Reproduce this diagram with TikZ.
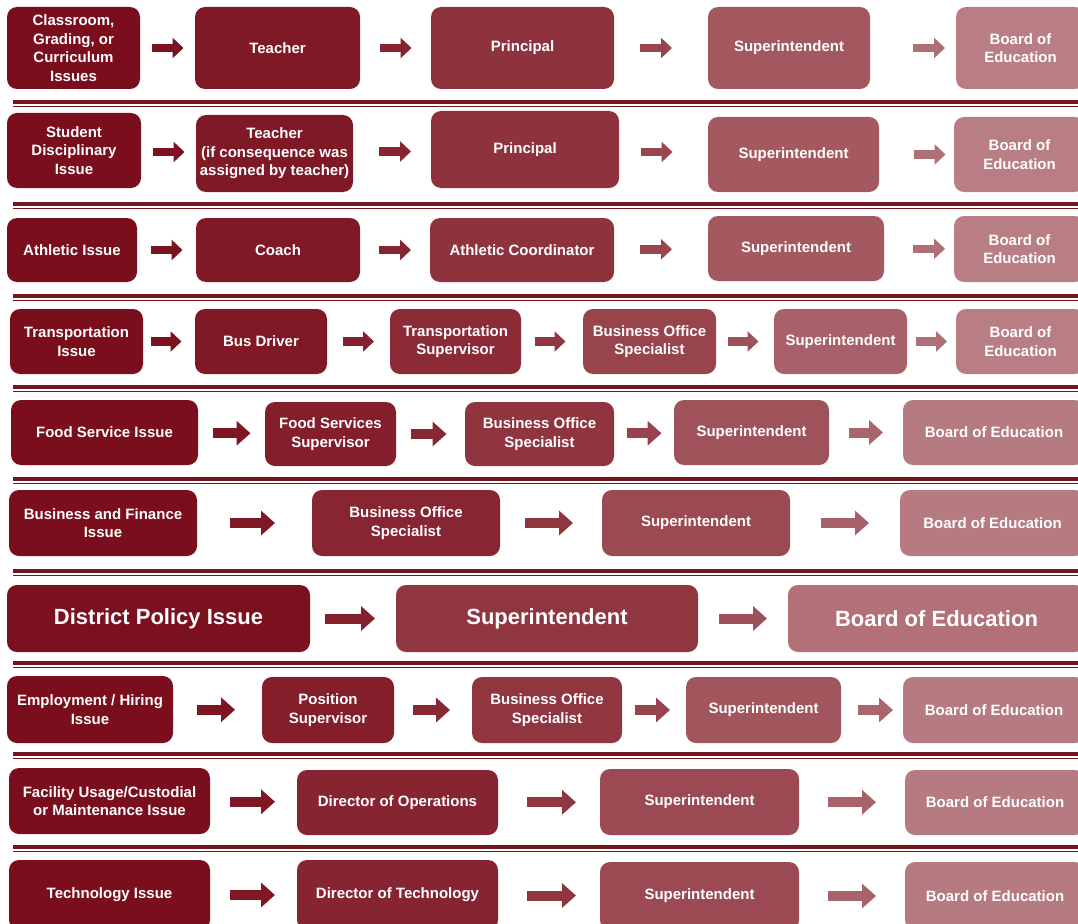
\documentclass[tikz,border=0pt]{standalone}
\usepackage{fontspec}
\setmainfont{Liberation Sans}
\usetikzlibrary{calc,arrows.meta}
\definecolor{darkc}{RGB}{122,14,28}
\definecolor{lightc}{RGB}{184,126,131}
\definecolor{sepc}{RGB}{118,20,32}
\newdimen\ardim
\newcommand\bx[7][]{%
  \pgfmathtruncatemacro\bxt{100*pow(max(0.001,min(1,((#3+#5)/2-70)/940)),1.5)}%
  \colorlet{bxc}{lightc!\bxt!darkc}%
  \pgfmathsetmacro\bxw{#5-#3}\pgfmathsetmacro\bxh{#6-#4}%
  \node[box,fill=bxc,minimum width=\bxw pt,minimum height=\bxh pt,#1] (#2) at ({(#3+#5)/2},{-(#4+#6)/2}) {#7};}
\newcommand\arr[5][0]{%
  \coordinate (#2-#3) at ($(#2.east)!.5!(#3.west)+(#1,0)$);
  \pgfextractx{\ardim}{\pgfpointanchor{#2-#3}{center}}%
  \pgfmathtruncatemacro\art{100*pow(max(0.001,min(1,(\ardim-70)/940)),1.5)}%
  \colorlet{arc}{lightc!\art!darkc}%
  \draw[#5,draw=arc] ($(#2-#3)+(-#4/2,0)$) -- ($(#2-#3)+(#4/2,0)$);}
\tikzset{
  box/.style={rectangle,rounded corners=10pt,text=white,align=center,inner sep=1pt,
    font=\bfseries\fontsize{15}{18.5}\selectfont},
  big/.style={font=\bfseries\fontsize{22}{26}\selectfont},
  arS/.style={line width=8.5pt,-{Triangle[length=11pt,width=20pt]}},
  arL/.style={line width=10pt,-{Triangle[length=14pt,width=24pt]}},
  sepA/.style={line width=4pt,sepc},
  sepB/.style={line width=1.5pt,sepc},
}
\begin{document}
\begin{tikzpicture}[x=1pt,y=1pt]
\useasboundingbox (0,0) rectangle (1078,-923);
\clip (0,0) rectangle (1078,-923);
\fill[white] (0,0) rectangle (1078,-923);
\foreach \y in {102,204,296,387,479,571,663,754,847}{
  \draw[sepA] (13,-\y) -- (1090,-\y);
  \draw[sepB] (13,-\y-4.5) -- (1090,-\y-4.5);
}
% Row 1
\bx{r1a}{7}{7}{140}{89}{Classroom,\\Grading, or\\Curriculum\\Issues}
\bx{r1b}{195}{7}{360}{89}{Teacher}
\bx{r1c}{431}{7}{614}{89}{Principal}
\bx{r1d}{708}{7}{870}{89}{Superintendent}
\bx{r1e}{956}{7}{1085}{89}{Board of\\Education}
\arr{r1a}{r1b}{32}{arS}
\arr{r1b}{r1c}{32}{arS}
\arr[-5]{r1c}{r1d}{32}{arS}
\arr[16]{r1d}{r1e}{32}{arS}
% Row 2
\bx{r2a}{7}{113}{141}{188}{Student\\Disciplinary\\Issue}
\bx{r2b}{196}{115}{353}{192}{Teacher\\(if consequence was\\assigned by teacher)}
\bx{r2c}{431}{111}{619}{188}{Principal}
\bx{r2d}{708}{117}{879}{192}{Superintendent}
\bx{r2e}{954}{117}{1085}{192}{Board of\\Education}
\arr{r2a}{r2b}{32}{arS}
\arr[3]{r2b}{r2c}{32}{arS}
\arr[-7]{r2c}{r2d}{32}{arS}
\arr[13]{r2d}{r2e}{32}{arS}
% Row 3
\bx{r3a}{7}{218}{137}{282}{Athletic Issue}
\bx{r3b}{196}{218}{360}{282}{Coach}
\bx{r3c}{430}{218}{614}{282}{Athletic Coordinator}
\bx{r3d}{708}{216}{884}{281}{Superintendent}
\bx{r3e}{954}{216}{1085}{282}{Board of\\Education}
\arr{r3a}{r3b}{32}{arS}
\arr{r3b}{r3c}{32}{arS}
\arr[-5]{r3c}{r3d}{32}{arS}
\arr[10]{r3d}{r3e}{32}{arS}
% Row 4
\bx{r4a}{10}{309}{143}{374}{Transportation\\Issue}
\bx{r4b}{195}{309}{327}{374}{Bus Driver}
\bx{r4c}{390}{309}{521}{374}{Transportation\\Supervisor}
\bx{r4d}{583}{309}{716}{374}{Business Office\\Specialist}
\bx{r4e}{774}{309}{907}{374}{Superintendent}
\bx{r4f}{956}{309}{1085}{374}{Board of\\Education}
\arr[-3]{r4a}{r4b}{31}{arS}
\arr{r4b}{r4c}{31}{arS}
\arr[-2]{r4c}{r4d}{31}{arS}
\arr[-2]{r4d}{r4e}{31}{arS}
\arr{r4e}{r4f}{31}{arS}
% Row 5
\bx{r5a}{11}{400}{198}{465}{Food Service Issue}
\bx{r5b}{265}{402}{396}{466}{Food Services\\Supervisor}
\bx{r5c}{465}{402}{614}{466}{Business Office\\Specialist}
\bx{r5d}{674}{400}{829}{465}{Superintendent}
\bx{r5e}{903}{400}{1085}{465}{Board of Education}
\arr{r5a}{r5b}{38}{arL}
\arr[-2]{r5b}{r5c}{36}{arL}
\arr{r5c}{r5d}{35}{arL}
\arr{r5d}{r5e}{34}{arL}
% Row 6
\bx{r6a}{9}{490}{197}{556}{Business and Finance\\Issue}
\bx{r6b}{312}{490}{500}{556}{Business Office\\Specialist}
\bx{r6c}{602}{490}{790}{556}{Superintendent}
\bx{r6d}{900}{490}{1085}{556}{Board of Education}
\arr[-2]{r6a}{r6b}{45}{arL}
\arr[-2]{r6b}{r6c}{48}{arL}
\arr{r6c}{r6d}{48}{arL}
% Row 7
\bx[big]{r7a}{7}{585}{310}{652}{District Policy Issue}
\bx[big]{r7b}{396}{585}{698}{652}{Superintendent}
\bx[big]{r7c}{788}{585}{1085}{652}{Board of Education}
\arr[-3]{r7a}{r7b}{50}{arL}
\arr{r7b}{r7c}{48}{arL}
% Row 8
\bx{r8a}{7}{676}{173}{743}{Employment / Hiring\\Issue}
\bx{r8b}{262}{677}{394}{743}{Position\\Supervisor}
\bx{r8c}{472}{677}{622}{743}{Business Office\\Specialist}
\bx{r8d}{686}{677}{841}{743}{Superintendent}
\bx{r8e}{903}{677}{1085}{743}{Board of Education}
\arr[-1.5]{r8a}{r8b}{38}{arL}
\arr[-1.5]{r8b}{r8c}{37}{arL}
\arr[-1.5]{r8c}{r8d}{35}{arL}
\arr[3.5]{r8d}{r8e}{35}{arL}
% Row 9
\bx{r9a}{9}{768}{210}{834}{Facility Usage/Custodial\\or Maintenance Issue}
\bx{r9b}{297}{770}{498}{835}{Director of Operations}
\bx{r9c}{600}{769}{799}{835}{Superintendent}
\bx{r9d}{905}{770}{1085}{835}{Board of Education}
\arr[-1]{r9a}{r9b}{45}{arL}
\arr[2.5]{r9b}{r9c}{49}{arL}
\arr{r9c}{r9d}{48}{arL}
% Row 10
\bx{r10a}{9}{860}{210}{930}{Technology Issue}
\bx{r10b}{297}{860}{498}{930}{Director of Technology}
\bx{r10c}{600}{862}{799}{930}{Superintendent}
\bx{r10d}{905}{862}{1085}{930}{Board of Education}
\arr[-1]{r10a}{r10b}{45}{arL}
\arr[2.5]{r10b}{r10c}{49}{arL}
\arr{r10c}{r10d}{48}{arL}
\end{tikzpicture}
\end{document}
